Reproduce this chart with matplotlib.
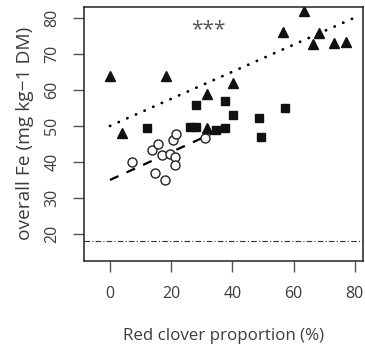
"""Fe concentration vs red clover proportion."""

import matplotlib
matplotlib.use("Agg")
import matplotlib.pyplot as plt

# triangles
tri_x = [0, 18.4, 3.8, 31.7, 40.2, 63.4, 56.6, 68.3, 66.4, 73.2, 77.0, 31.7]
tri_y = [64.0, 63.9, 48.0, 58.8, 61.9, 81.8, 76.0, 75.8, 72.8, 73.0, 73.3, 49.4]

# squares
sq_x = [12.0, 28.0, 37.5, 40.2, 48.6, 57.2, 49.2, 26.2, 28.2, 34.8, 37.5]
sq_y = [49.5, 55.8, 56.8, 53.1, 52.3, 55.1, 46.9, 49.8, 49.8, 48.9, 49.4]

# open circles
circ_x = [7.1, 14.8, 18.0, 13.7, 15.8, 16.9, 19.7, 21.3, 21.1, 20.6, 21.6, 31.1]
circ_y = [40.0, 36.8, 35.1, 43.2, 45.1, 41.8, 42.3, 41.4, 39.1, 46.0, 47.8, 46.7]

# fitted lines (end points)
dash_x = [0, 37]
dash_y = [35.0, 49.3]
dot_x = [0, 80]
dot_y = [50.0, 80.1]

threshold = 18
x_ticks = [0, 20, 40, 60, 80]
y_ticks = [20, 30, 40, 50, 60, 70, 80]

txt = "#3c3c3c"
plt.rcParams["font.family"] = ["Open Sans", "DejaVu Sans"]

fig = plt.figure(figsize=(3.65, 3.56), dpi=100)
ax = fig.add_axes([0.230, 0.268, 0.764, 0.712])

ax.plot(dot_x, dot_y, color="black", lw=2.0,
        linestyle=(0, (0.1, 3.3)), dash_capstyle="round")
ax.plot(dash_x, dash_y, color="black", lw=1.6, linestyle=(0, (4.2, 4.0)))
ax.axhline(threshold, color="#333333", lw=0.8, linestyle=(0, (5, 2, 1, 2)))

ax.plot(circ_x, circ_y, "o", ms=6.5, mfc="white", mec="#222222", mew=1.0)
ax.plot(sq_x, sq_y, "s", ms=6.0, color="#111111")
ax.plot(tri_x, tri_y, "^", ms=7.8, color="#111111")

ax.text(32, 76.6, "***", ha="center", va="center", fontsize=15, color="#555555")

ax.set_xlim(-8.5, 82.6)
ax.set_ylim(12.6, 83.0)
ax.set_xticks(x_ticks)
ax.set_yticks(y_ticks)
ax.tick_params(axis="both", direction="out", length=8, width=1.0,
               color="#555555", labelcolor=txt, labelsize=11.5)
ax.tick_params(axis="x", pad=10)
ax.tick_params(axis="y", pad=9)
for lab in ax.get_yticklabels():
    lab.set_rotation(90)
    lab.set_va("center")

for sp in ax.spines.values():
    sp.set_color("#222222")
    sp.set_linewidth(1.1)

ax.set_xlabel("Red clover proportion (%)", fontsize=12.2, color=txt, va="center")
ax.set_ylabel("overall Fe (mg kg\u22121 DM)", fontsize=13.8, color=txt, va="center")
ax.xaxis.set_label_coords(0.5, -0.297)
ax.yaxis.set_label_coords(-0.212, 0.5)

fig.savefig("out.png", dpi=100)
